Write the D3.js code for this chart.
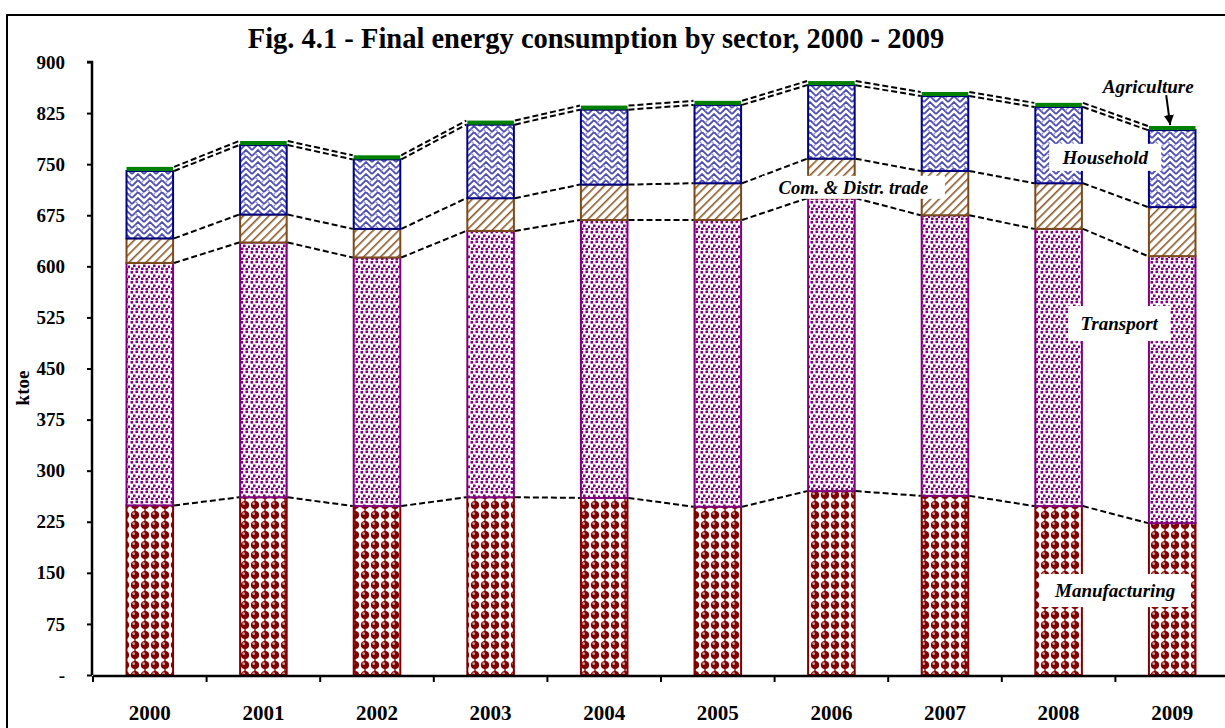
<!DOCTYPE html>
<html>
<head>
<meta charset="utf-8">
<script src="https://cdn.jsdelivr.net/npm/d3@7"></script>
<style>
  body { margin: 0; background: #fff; }
  svg text { font-family: "Liberation Serif", "Times New Roman", serif; font-weight: bold; }
</style>
</head>
<body>
<div id="chart"></div>
<script>
const years = ['2000', '2001', '2002', '2003', '2004', '2005', '2006', '2007', '2008', '2009']
const sectors = ['Manufacturing', 'Transport', 'Com. & Distr. trade', 'Household', 'Agriculture']
const manufacturing = [249, 261, 248, 261, 260, 247, 270, 263, 248, 223]
const transport = [356, 374, 365, 391, 408, 421, 430, 412, 407, 392]
const commerce = [36, 41, 42, 48, 52, 54, 58, 65, 67, 72]
const household = [99, 102, 102, 108, 110, 115, 108, 110, 112, 113]
const agriculture = [6, 6, 6, 6, 6, 6, 6, 6, 6, 6]
const yTicks = [0, 75, 150, 225, 300, 375, 450, 525, 600, 675, 750, 825, 900]

const width = 1225, height = 728
const svg = d3.select('#chart').append('svg').attr('width', width).attr('height', height)

// chart frame
svg.append('rect').attr('x', 7).attr('y', 15).attr('width', width).attr('height', height)
    .attr('fill', 'none').attr('stroke', 'black').attr('stroke-width', 2)

// patterns
const defs = svg.append('defs')
const pm = defs.append('pattern').attr('id', 'p-man').attr('patternUnits', 'userSpaceOnUse').attr('width', 10).attr('height', 10)
pm.append('rect').attr('width', 10).attr('height', 10).attr('fill', '#fff')
pm.append('circle').attr('cx', 5).attr('cy', 5).attr('r', 4.1).attr('fill', '#800000')
pm.append('rect').attr('x', 4.3).attr('y', 0).attr('width', 1.4).attr('height', 10).attr('fill', '#800000')
pm.append('circle').attr('cx', 3.7).attr('cy', 3.7).attr('r', 1.4).attr('fill', '#fff').attr('opacity', 0.6)

const pt = defs.append('pattern').attr('id', 'p-tra').attr('patternUnits', 'userSpaceOnUse').attr('width', 10).attr('height', 10)
pt.append('rect').attr('width', 10).attr('height', 10).attr('fill', '#fff')
;[[0.5, 1], [5.5, 0.5], [3, 4.5], [8, 5.5], [1, 7.5], [5.5, 8]].forEach(p => {
    pt.append('rect').attr('x', p[0]).attr('y', p[1]).attr('width', 2.6).attr('height', 2.6).attr('fill', '#800080')
})

const pc = defs.append('pattern').attr('id', 'p-com').attr('patternUnits', 'userSpaceOnUse').attr('width', 6).attr('height', 6)
    .attr('patternTransform', 'rotate(45)')
pc.append('rect').attr('width', 6).attr('height', 6).attr('fill', '#fff')
pc.append('rect').attr('x', 0).attr('y', 0).attr('width', 1.6).attr('height', 6).attr('fill', '#8a5a2a')

const ph = defs.append('pattern').attr('id', 'p-hou').attr('patternUnits', 'userSpaceOnUse').attr('width', 12).attr('height', 12)
ph.append('rect').attr('width', 12).attr('height', 12).attr('fill', '#fff')
ph.append('path').attr('d', 'M0,6 L6,0 L12,6 M0,12 L6,6 L12,12 M-6,6 L0,0 M12,0 L18,6')
    .attr('fill', 'none').attr('stroke', '#5050b4').attr('stroke-width', 1.8)
ph.append('path').attr('d', 'M3,9 L6,12 M9,3 L12,0')
    .attr('fill', 'none').attr('stroke', '#9090d4').attr('stroke-width', 1.2)

const seriesValues = [manufacturing, transport, commerce, household, agriculture]
const fills = ['url(#p-man)', 'url(#p-tra)', 'url(#p-com)', 'url(#p-hou)', '#008000']
const strokes = ['#800000', '#800080', '#7a4a1a', '#000080', '#008000']

const rows = years.map((yr, i) => {
    const r = { year: yr }
    sectors.forEach((s, k) => { r[s] = seriesValues[k][i] })
    return r
})
const stacked = d3.stack().keys(sectors)(rows)

const x = d3.scaleBand().domain(years).range([93, 1229]).paddingInner(0.59).paddingOuter(0.295)
const y = d3.scaleLinear().domain([0, 900]).range([675, 62])
const bw = x.bandwidth()

// bars
stacked.forEach((layer, k) => {
    svg.append('g').selectAll('rect')
        .data(layer)
        .enter().append('rect')
        .attr('x', d => x(d.data.year))
        .attr('y', d => y(d[1]))
        .attr('width', bw)
        .attr('height', d => y(d[0]) - y(d[1]))
        .attr('fill', fills[k])
        .attr('stroke', strokes[k])
        .attr('stroke-width', k == 4 ? 0 : 2)
})

// series lines
stacked.forEach(layer => {
    const segs = d3.pairs(layer)
    svg.append('g').selectAll('line')
        .data(segs)
        .enter().append('line')
        .attr('x1', d => x(d[0].data.year) + bw + 1)
        .attr('y1', d => y(d[0][1]))
        .attr('x2', d => x(d[1].data.year) - 1)
        .attr('y2', d => y(d[1][1]))
        .attr('stroke', 'black')
        .attr('stroke-width', 2)
        .attr('stroke-dasharray', '6,3')
})

// y axis
const yAxis = svg.append('g').attr('transform', 'translate(92,0)')
    .call(d3.axisLeft(y).tickValues(yTicks).tickSize(5).tickPadding(22)
        .tickFormat(d => d === 0 ? '-' : d))
yAxis.select('.domain').attr('stroke-width', 2.5).attr('d', `M-5,${y(900)}H0V${y(0)}`)
yAxis.selectAll('.tick line').attr('stroke-width', 2)
yAxis.selectAll('.tick text').style('font-size', '19px').style('font-family', '"Liberation Serif", serif').style('font-weight', 'bold')

// x axis
const xAxis = svg.append('g').attr('transform', `translate(0,${y(0) + 1})`)
    .call(d3.axisBottom(x).tickSize(0).tickPadding(29))
xAxis.select('.domain').attr('stroke-width', 2.5).attr('d', `M${x.range()[0]},0H${x.range()[1]}`)
xAxis.selectAll('.tick text').style('font-size', '21px').style('font-family', '"Liberation Serif", serif').style('font-weight', 'bold')
xAxis.append('g').selectAll('line')
    .data(d3.range(years.length + 1))
    .enter().append('line')
    .attr('x1', i => x.range()[0] + i * x.step())
    .attr('x2', i => x.range()[0] + i * x.step())
    .attr('y1', 0).attr('y2', 6)
    .attr('stroke', 'black').attr('stroke-width', 2)

// y label
svg.append('text').attr('transform', `translate(29,388) rotate(-90)`)
    .attr('text-anchor', 'middle').style('font-size', '19px').text('ktoe')

// title
svg.append('text').attr('x', 596).attr('y', 48).attr('text-anchor', 'middle')
    .style('font-size', '28.5px').text('Fig. 4.1 - Final energy consumption by sector, 2000 - 2009')

// series labels with white boxes
function boxLabel(text, cx, cy, bwid, bh, size) {
    svg.append('rect').attr('x', cx - bwid / 2).attr('y', cy - bh / 2).attr('width', bwid).attr('height', bh).attr('fill', '#fff')
    svg.append('text').attr('x', cx).attr('y', cy).attr('dy', '0.35em').attr('text-anchor', 'middle')
        .style('font-size', size + 'px').style('font-style', 'italic').text(text)
}
const last = years[years.length - 1]
const lx = x(last) + bw / 2
boxLabel('Manufacturing', lx - 57, y(124), 150, 33, 19)
boxLabel('Transport', lx - 53, y(516), 102, 35, 19)
boxLabel('Com. & Distr. trade', x('2006') + bw / 2 + 22, y(716), 183, 23, 18.5)
boxLabel('Household', lx - 67, y(760), 112, 27, 19)

// agriculture label with arrow
defs.append('marker').attr('id', 'arrow').attr('viewBox', '0 0 10 10').attr('refX', 10).attr('refY', 5)
    .attr('markerWidth', 5).attr('markerHeight', 5).attr('orient', 'auto')
    .append('path').attr('d', 'M0,0 L10,5 L0,10 z').attr('fill', 'black')
const topLast = stacked[4][years.length - 1][1]
svg.append('line').attr('x1', lx - 6).attr('y1', y(topLast) - 31).attr('x2', lx - 2).attr('y2', y(topLast) - 1)
    .attr('stroke', 'black').attr('stroke-width', 2).attr('marker-end', 'url(#arrow)')
svg.append('text').attr('x', lx - 24).attr('y', 93).attr('text-anchor', 'middle')
    .style('font-size', '19px').style('font-style', 'italic').text('Agriculture')
</script>
</body>
</html>
